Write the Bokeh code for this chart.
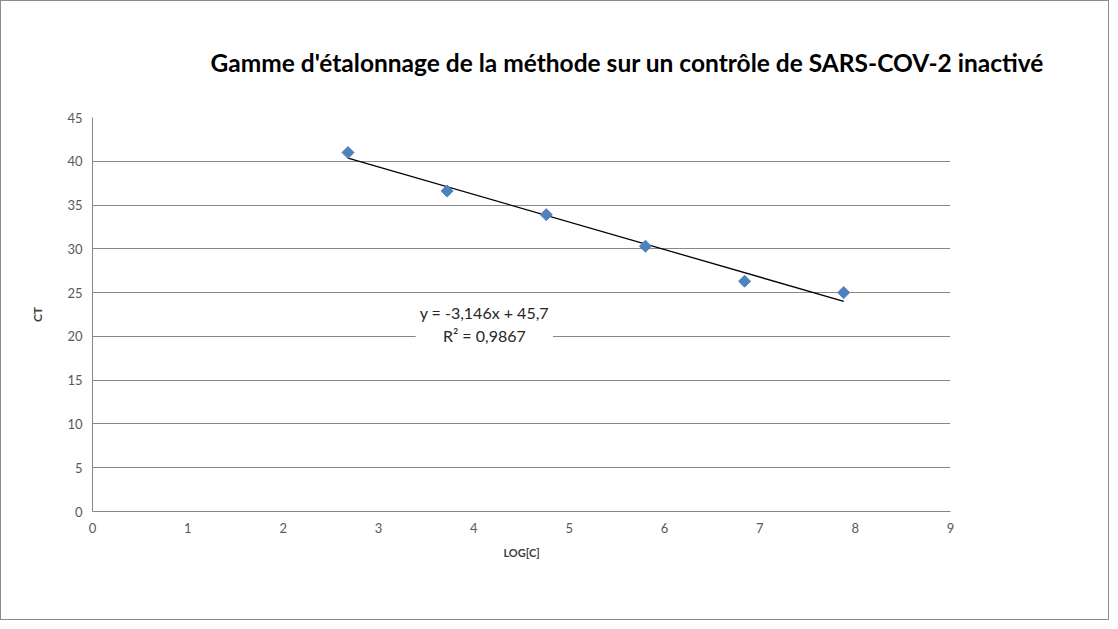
import numpy as np
from bokeh.plotting import figure
from bokeh.models import Range1d, SingleIntervalTicker, Label
from bokeh.embed import file_html
from bokeh.resources import INLINE

log_c = [2.68, 3.72, 4.76, 5.80, 6.84, 7.88]
ct = [41.0, 36.6, 33.9, 30.3, 26.3, 25.0]
title_text = "Gamme d'étalonnage  de la méthode sur un contrôle de SARS-COV-2 inactivé"
eq_text = "y = -3,146x + 45,7\nR² = 0,9867"

FONT = "Lato"
GRID = "#878787"

p = figure(width=1109, height=620, output_backend="svg", toolbar_location=None,
           x_range=Range1d(0, 9), y_range=Range1d(0, 45),
           min_border_left=91, min_border_right=160, min_border_top=116, min_border_bottom=110)
p.styles = {"border": "1px solid #8c8c8c"}
p.outline_line_color = None
p.background_fill_color = "white"
p.border_fill_color = "white"

p.title.text = title_text
p.title.text_font = FONT
p.title.text_font_size = "24.5px"
p.title.text_font_style = "bold"
p.title.text_color = "black"
p.title.align = "left"
p.title.offset = 118
p.title.standoff = 82

p.xaxis.ticker = SingleIntervalTicker(interval=1)
p.yaxis.ticker = SingleIntervalTicker(interval=5)
for ax in (p.xaxis[0], p.yaxis[0]):
    ax.axis_line_color = GRID
    ax.axis_line_width = 1
    ax.major_tick_out = 0
    ax.major_tick_in = 0
    ax.minor_tick_out = 0
    ax.minor_tick_in = 0
    ax.major_label_text_font = FONT
    ax.major_label_text_font_size = "13px"
    ax.major_label_text_color = "#595959"
    ax.axis_label_text_font = FONT
    ax.axis_label_text_font_style = "bold"
    ax.axis_label_text_font_size = "11px"
    ax.axis_label_text_color = "#404040"
p.xaxis.axis_label = "LOG[C]"
p.yaxis.axis_label = "CT"
p.yaxis.axis_label_text_font_size = "12px"
p.xaxis.major_label_standoff = 11
p.yaxis.major_label_standoff = 10
p.xaxis.axis_label_standoff = 10
p.yaxis.axis_label_standoff = 19

p.xgrid.grid_line_color = None
p.ygrid.grid_line_color = GRID
p.ygrid.grid_line_width = 1

# linear trend line (least squares)
slope, intercept = np.polyfit(log_c, ct, 1)
xs = [min(log_c), max(log_c)]
ys = [slope * x + intercept for x in xs]
p.line(xs, ys, line_color="black", line_width=1.3)

p.scatter(log_c, ct, marker="square", angle=np.pi / 4, size=8.5,
          fill_color="#4F81BD", line_color="#4F81BD")

eq = Label(x=4.11, y=21.4, text=eq_text, text_font=FONT, text_font_size="16px",
           text_color="#262626", text_align="center", text_baseline="middle",
           background_fill_color="white", background_fill_alpha=1.0,
           padding=4)
p.add_layout(eq)

open("out.html", "w").write(file_html(p, INLINE))
